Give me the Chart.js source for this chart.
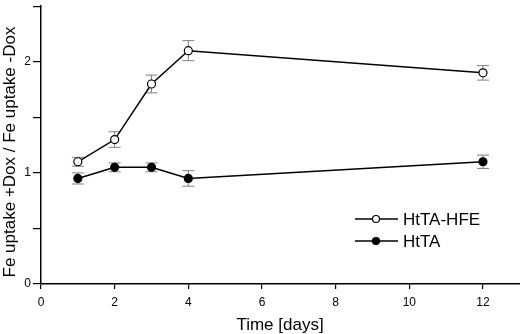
<!DOCTYPE html>
<html>
<head>
<meta charset="utf-8">
<script src="https://cdn.jsdelivr.net/npm/chart.js@4.4.0/dist/chart.umd.min.js"></script>
<style>
  html, body { margin: 0; padding: 0; background: #fff; overflow: hidden; width: 520px; height: 334px; }
  /* canvas is 5px wider and 3px taller so the plot area reaches the edges like the original */
  #wrap { position: relative; top: -3px; width: 525px; height: 337px; }
</style>
</head>
<body>
<div id="wrap"><canvas id="chart"></canvas></div>
<script>
const days = [1, 2, 3, 4, 12];
const hfeValues = [1.10, 1.30, 1.80, 2.10, 1.90];
const hfeErrors = [0.04, 0.07, 0.08, 0.09, 0.065];
const httaValues = [0.95, 1.05, 1.05, 0.95, 1.10];
const httaErrors = [0.05, 0.04, 0.04, 0.07, 0.06];
const seriesNames = ['HtTA-HFE', 'HtTA'];
const xTickLabels = [0, 2, 4, 6, 8, 10, 12];
const yTickLabels = [0, 1, 2];
const xTitle = 'Time [days]';
const yTitle = 'Fe uptake +Dox / Fe uptake -Dox';

const FONT = "'Liberation Sans', Arial, sans-serif";
Chart.defaults.font.family = FONT;
Chart.defaults.color = '#000';

function toPoints(values) {
    return days.map((d, i) => ({ x: d, y: values[i] }));
}

// gray error bars, drawn under the lines and markers
const errorBars = {
    id: 'errorBars',
    beforeDatasetsDraw(chart) {
        const ctx = chart.ctx;
        const xs = chart.scales.x, ys = chart.scales.y;
        ctx.save();
        ctx.strokeStyle = '#808080';
        ctx.lineWidth = 1;
        chart.data.datasets.forEach(ds => {
            ds.data.forEach((p, i) => {
                const px = xs.getPixelForValue(p.x);
                const top = ys.getPixelForValue(p.y + ds.errors[i]);
                const bot = ys.getPixelForValue(p.y - ds.errors[i]);
                ctx.beginPath();
                ctx.moveTo(px, top); ctx.lineTo(px, bot);
                ctx.moveTo(px - 6, top); ctx.lineTo(px + 6, top);
                ctx.moveTo(px - 6, bot); ctx.lineTo(px + 6, bot);
                ctx.stroke();
            });
        });
        ctx.restore();
    }
};

// axis titles and the legend inside the plot (canvas is shifted up 3px)
const decorations = {
    id: 'decorations',
    afterDraw(chart) {
        const ctx = chart.ctx;
        ctx.save();
        ctx.fillStyle = '#000';
        ctx.font = '17px ' + FONT;
        ctx.textAlign = 'center';
        ctx.textBaseline = 'alphabetic';
        ctx.fillText(xTitle, 280, 333);

        ctx.translate(15, 155);
        ctx.rotate(-Math.PI / 2);
        ctx.fillText(yTitle, 0, 0);
        ctx.restore();

        ctx.save();
        ctx.strokeStyle = '#000';
        ctx.lineWidth = 1.5;
        ctx.font = '17px ' + FONT;
        ctx.textAlign = 'left';
        ctx.textBaseline = 'middle';
        chart.data.datasets.forEach((ds, i) => {
            const y = 222 + i * 22;
            ctx.beginPath();
            ctx.moveTo(355, y); ctx.lineTo(398, y);
            ctx.stroke();
            ctx.beginPath();
            ctx.arc(376, y, 3.5, 0, Math.PI * 2);
            ctx.fillStyle = ds.pointBackgroundColor;
            ctx.fill();
            ctx.lineWidth = 1.2;
            ctx.stroke();
            ctx.lineWidth = 1.5;
            ctx.fillStyle = '#000';
            ctx.fillText(ds.label, 403, y + 1);
        });
        ctx.restore();
    }
};

new Chart(document.getElementById('chart'), {
    type: 'line',
    data: {
        datasets: [
            {
                label: seriesNames[0],
                data: toPoints(hfeValues),
                errors: hfeErrors,
                borderColor: '#000',
                borderWidth: 1.5,
                pointRadius: 4,
                pointBorderWidth: 1.2,
                pointBorderColor: '#000',
                pointBackgroundColor: '#fff',
                tension: 0
            },
            {
                label: seriesNames[1],
                data: toPoints(httaValues),
                errors: httaErrors,
                borderColor: '#000',
                borderWidth: 1.5,
                pointRadius: 4,
                pointBorderWidth: 1.2,
                pointBorderColor: '#000',
                pointBackgroundColor: '#000',
                tension: 0
            }
        ]
    },
    options: {
        responsive: true,
        maintainAspectRatio: false,
        animation: false,
        layout: { padding: { top: 2, right: 0, left: 0, bottom: 0 } },
        plugins: {
            legend: { display: false },
            tooltip: { enabled: false }
        },
        scales: {
            x: {
                type: 'linear',
                min: 0,
                max: 13,
                afterFit: s => { s.height = 50; },
                border: { color: '#000', width: 1.5 },
                grid: { drawOnChartArea: false, color: '#000', lineWidth: 1.2, tickLength: 5 },
                ticks: {
                    stepSize: 2,
                    includeBounds: false,
                    padding: 6,
                    font: { size: 12 },
                    maxRotation: 0,
                    callback: v => xTickLabels.includes(v) ? String(v) : ''
                }
            },
            y: {
                min: 0,
                max: 2.5,
                afterFit: s => { s.width = 41; },
                border: { color: '#000', width: 1.5 },
                grid: { drawOnChartArea: false, color: '#000', lineWidth: 1.2, tickLength: 8 },
                ticks: {
                    stepSize: 0.5,
                    padding: 2,
                    font: { size: 12 },
                    callback: v => yTickLabels.includes(v) ? String(v) : ''
                }
            }
        }
    },
    plugins: [errorBars, decorations]
});
</script>
</body>
</html>
